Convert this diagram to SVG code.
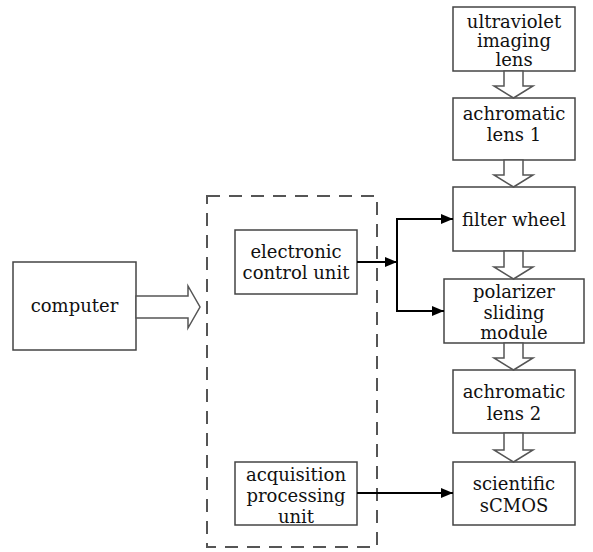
<svg xmlns="http://www.w3.org/2000/svg" width="593" height="552" viewBox="0 0 593 552">
<defs>
<style>
.box{fill:#fff;stroke:#444;stroke-width:1.5}
.t{font-family:"DejaVu Serif","Liberation Serif",serif;font-size:18px;fill:#111;text-anchor:middle}
.ha{fill:#fff;stroke:#555;stroke-width:1.5;stroke-linejoin:miter}
.c{fill:none;stroke:#000;stroke-width:2}
.dash{fill:none;stroke:#555;stroke-width:2;stroke-dasharray:13 9}
</style>
<marker id="ah" markerWidth="12" markerHeight="10" refX="12" refY="5" orient="auto" markerUnits="userSpaceOnUse">
<path d="M0,0 L12,5 L0,10 Z" fill="#000"/>
</marker>
</defs>
<rect width="593" height="552" fill="#fff"/>

<g id="group-box">
<rect class="dash" x="207" y="196" width="170" height="351"/>
</g>

<g id="computer">
<rect class="box" x="13" y="262" width="123" height="88"/>
<text class="t" x="74.5" y="312">computer</text>
</g>

<g id="ecu">
<rect class="box" x="235" y="230" width="122" height="64"/>
<text class="t" x="296" y="258">electronic</text>
<text class="t" x="296" y="279">control unit</text>
</g>

<g id="acq">
<rect class="box" x="235" y="462" width="122" height="63"/>
<text class="t" x="296" y="481">acquisition</text>
<text class="t" x="296" y="502">processing</text>
<text class="t" x="296" y="523">unit</text>
</g>

<g id="uv-lens">
<rect class="box" x="453" y="7" width="122" height="64"/>
<text class="t" x="514" y="28">ultraviolet</text>
<text class="t" x="514" y="47">imaging</text>
<text class="t" x="514" y="66">lens</text>
</g>

<g id="achro1">
<rect class="box" x="453" y="98" width="122" height="62"/>
<text class="t" x="514" y="120">achromatic</text>
<text class="t" x="514" y="141">lens 1</text>
</g>

<g id="filter">
<rect class="box" x="453" y="187" width="122" height="64"/>
<text class="t" x="514" y="226">filter wheel</text>
</g>

<g id="polarizer">
<rect class="box" x="444" y="279" width="140" height="64"/>
<text class="t" x="514" y="298">polarizer</text>
<text class="t" x="514" y="319">sliding</text>
<text class="t" x="514" y="339">module</text>
</g>

<g id="achro2">
<rect class="box" x="453" y="370" width="122" height="63"/>
<text class="t" x="514" y="398">achromatic</text>
<text class="t" x="514" y="420">lens 2</text>
</g>

<g id="scmos">
<rect class="box" x="453" y="462" width="122" height="63"/>
<text class="t" x="514" y="490">scientific</text>
<text class="t" x="514" y="512">sCMOS</text>
</g>

<g id="connectors">
<polygon class="ha" points="136,296 188,296 188,286 200,307 188,328 188,318 136,318"/>
<polygon class="ha" points="504,71 504,86 494,86 513.5,98 533,86 523,86 523,71"/>
<polygon class="ha" points="504,160 504,175 494,175 513.5,187 533,175 523,175 523,160"/>
<polygon class="ha" points="504,251 504,267 494,267 513.5,279 533,267 523,267 523,251"/>
<polygon class="ha" points="504,343 504,358 494,358 513.5,370 533,358 523,358 523,343"/>
<polygon class="ha" points="504,433 504,450 494,450 513.5,462 533,450 523,450 523,433"/>
<line class="c" x1="357" y1="262" x2="397" y2="262" marker-end="url(#ah)"/>
<polyline class="c" points="453,219 397,219 397,311 444,311" marker-end="url(#ah)"/>
<line class="c" x1="397" y1="219" x2="453" y2="219" marker-end="url(#ah)"/>
<line class="c" x1="357" y1="493" x2="453" y2="493" marker-end="url(#ah)"/>
</g>
</svg>
